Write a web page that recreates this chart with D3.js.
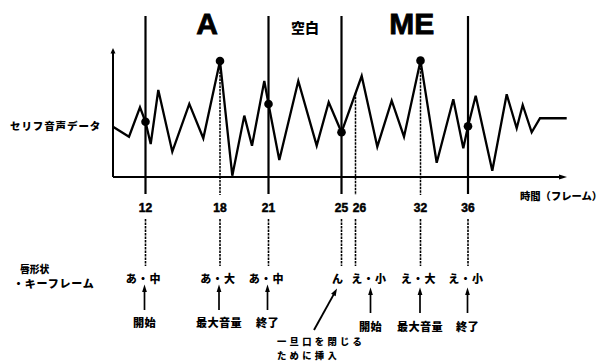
<!DOCTYPE html>
<html><head><meta charset="utf-8">
<script src="https://cdn.jsdelivr.net/npm/d3@7"></script>
<style>body{margin:0;background:#fff}svg{display:block}</style>
</head><body>
<svg id="c" width="604" height="362"></svg>
<script>
// ---- data ----
const waveT = [0,16,27,32.5,37.7,45.3,59.3,76.3,90.3,107,119.3,131.3,139,151.3,155.5,166.3,185.3,203.7,215.7,228.5,248.7,264.3,278.7,291,307.5,323.7,340.3,350.3,355,362.7,379.3,393.7,403.7,409.7,418.7,427,453.7];
const waveV = [38.7,31,53.6,42.5,25.4,66.9,19.5,56.2,29.8,89.2,1,47.2,24.1,73.8,56.2,13.1,73.8,24.1,57.5,34.4,77.7,23.3,58.7,31,89.5,11,59.8,22.1,39,62.5,4.8,63.6,37.5,55.4,34.4,45.2,45.2];
const keyFrames = [12,18,21,25,26,32,36];
const keyT = [32.5,107,155.5,228.5,242.5,307.5,355];
const keyDotV = [42.5,89.2,56.2,34.4,null,89.5,39];
const keyLineType = ["solid","dot","solid","solid","dot","dot","solid"];
const mouthShapes = ["あ・中","あ・大","あ・中","ん","え・小","え・大","え・小"];
const eventLabels = ["開始","最大音量","終了",null,"開始","最大音量","終了"];
const segmentLabels = ["A","空白","ME"];
const segmentSpan = [[0,2],[2,3],[4,6]];
const segmentSize = [30,14,30];
const yAxisLabel = "セリフ音声データ";
const xAxisLabel = "時間（フレーム）";
const rowLabel = ["唇形状","・キーフレーム"];
const noteLines = ["一旦口を閉じる","ために挿入"];

// ---- layout ----
const svg = d3.select("#c");
const x = d3.scaleLinear().domain([0,454]).range([113,567]);
const y = d3.scaleLinear().domain([0,100]).range([177,47]);
const ink = "#000";
const jp = "'Noto Sans CJK JP','Noto Sans',sans-serif";
const lat = "'Liberation Sans',Arial,sans-serif";
const waveAt = t => d3.scaleLinear().domain(waveT).range(waveV)(t);

// vertical key lines (above & at axis)
keyT.forEach((t,i)=>{
  const xp = x(t);
  if (keyLineType[i]==="solid") {
    svg.append("line").attr("x1",xp).attr("x2",xp).attr("y1",16).attr("y2",194)
      .attr("stroke",ink).attr("stroke-width",2.2);
  } else {
    const top = keyDotV[i]!=null ? y(keyDotV[i]) : y(waveAt(t));
    svg.append("line").attr("x1",xp).attr("x2",xp).attr("y1",top).attr("y2",195)
      .attr("stroke",ink).attr("stroke-width",1.5).attr("stroke-dasharray","2.5,1");
  }
  // dashed part below the frame label
  svg.append("line").attr("x1",xp).attr("x2",xp).attr("y1",219).attr("y2",266)
    .attr("stroke",ink).attr("stroke-width",1.6).attr("stroke-dasharray","2.5,1");
});

// axes
svg.append("line").attr("x1",x(0)).attr("x2",x(0)).attr("y1",y(0)).attr("y2",y(96))
  .attr("stroke",ink).attr("stroke-width",2);
svg.append("path").attr("d",`M${x(0)-2.5},${y(95)} L${x(0)},${y(100)+1} L${x(0)+2.5},${y(95)} Z`).attr("fill",ink);
svg.append("line").attr("x1",x(0)).attr("x2",x(447)).attr("y1",y(0)).attr("y2",y(0))
  .attr("stroke",ink).attr("stroke-width",2);
svg.append("path").attr("d",`M${x(446)},${y(0)-2.5} L${x(454)},${y(0)} L${x(446)},${y(0)+2.5} Z`).attr("fill",ink);

// waveform
const line = d3.line().x(d=>x(d[0])).y(d=>y(d[1]));
svg.append("path").datum(waveT.map((t,i)=>[t,waveV[i]]))
  .attr("d",line).attr("fill","none").attr("stroke",ink).attr("stroke-width",2.3)
  .attr("stroke-linejoin","miter");

// dots
keyT.forEach((t,i)=>{
  if (keyDotV[i]==null) return;
  svg.append("circle").attr("cx",x(t)).attr("cy",y(keyDotV[i])).attr("r",4.3).attr("fill",ink);
});

// segment labels
segmentLabels.forEach((s,i)=>{
  const [a,b] = segmentSpan[i];
  const cx = (x(keyT[a])+x(keyT[b]))/2;
  svg.append("text").attr("x",cx).attr("y", segmentSize[i]>20 ? 34 : 33)
    .attr("text-anchor","middle").attr("font-family", segmentSize[i]>20 ? lat : jp)
    .attr("font-weight", segmentSize[i]>20 ? "bold" : 900).attr("font-size",segmentSize[i])
    .attr("stroke", segmentSize[i]>20 ? ink : "none").attr("stroke-width",0.8).text(s);
});

// frame labels
keyFrames.forEach((f,i)=>{
  let dx = 0;
  if (f===26) dx = 4;
  svg.append("text").attr("x",x(keyT[i])+dx).attr("y",212).attr("text-anchor","middle")
    .attr("font-family",lat).attr("font-weight","bold").attr("font-size",12)
    .attr("stroke",ink).attr("stroke-width",0.5).text(f);
});

// axis labels
svg.append("text").attr("x",10).attr("y",125).attr("dominant-baseline","central")
  .attr("font-family",jp).attr("font-weight",900).attr("font-size",10.5)
  .attr("letter-spacing",0.9).text(yAxisLabel);
svg.append("text").attr("x",520).attr("y",195).attr("dominant-baseline","central")
  .attr("font-family",jp).attr("font-weight",900).attr("font-size",10.3).text(xAxisLabel);
svg.append("text").attr("x",20).attr("y",268.5).attr("dominant-baseline","central")
  .attr("font-family",jp).attr("font-weight",900).attr("font-size",9.8).text(rowLabel[0]);
svg.append("text").attr("x",13).attr("y",283).attr("dominant-baseline","central")
  .attr("font-family",jp).attr("font-weight",900).attr("font-size",11)
  .attr("letter-spacing",0.8).text(rowLabel[1]);

// mouth shapes, arrows, event labels
mouthShapes.forEach((m,i)=>{
  const xp = x(keyT[i]);
  const sx = keyFrames[i]===26 ? xp+13.5 : (keyFrames[i]===25 ? xp-3.5 : xp-2);
  svg.append("text").attr("x",sx).attr("y",277.5).attr("dominant-baseline","central")
    .attr("text-anchor","middle").attr("font-family",jp).attr("font-weight",900)
    .attr("font-size",11).attr("letter-spacing",0.8).text(m);
  const lab = eventLabels[i];
  if (lab) {
    const off = i>=4 ? 3 : 0;
    const ax = i>=4 ? sx+1.5 : sx+1;
    svg.append("line").attr("x1",ax).attr("x2",ax).attr("y1",289+off).attr("y2",310+off)
      .attr("stroke",ink).attr("stroke-width",1.7);
    svg.append("path").attr("d",`M${ax-2.4},${292+off} L${ax},${284.5+off} L${ax+2.4},${292+off} Z`).attr("fill",ink);
    svg.append("text").attr("x",ax).attr("y",322+off+(i>=4?1:0)).attr("dominant-baseline","central")
      .attr("text-anchor","middle").attr("font-family",jp).attr("font-weight",900)
      .attr("font-size",11.2).attr("letter-spacing",0.3).text(lab);
  } else {
    // diagonal note arrow pointing to "ん"
    const tx = sx-1, ty = 288.5, bx = sx-24, by = 330;
    const ang = Math.atan2(ty-by, tx-bx);
    svg.append("line").attr("x1",bx).attr("y1",by).attr("x2",tx-5*Math.cos(ang)).attr("y2",ty-5*Math.sin(ang))
      .attr("stroke",ink).attr("stroke-width",1.9);
    const p = (l,w)=>[tx - l*Math.cos(ang) - w*Math.sin(ang), ty - l*Math.sin(ang) + w*Math.cos(ang)];
    const a1 = p(7.5,2.6), a2 = p(7.5,-2.6);
    svg.append("path").attr("d",`M${tx},${ty} L${a1[0]},${a1[1]} L${a2[0]},${a2[1]} Z`).attr("fill",ink);
    noteLines.forEach((nl,k)=>{
      svg.append("text").attr("x",277).attr("y",341.3+k*13.5).attr("dominant-baseline","central")
        .attr("font-family",jp).attr("font-weight",900).attr("font-size",9.3)
        .attr("letter-spacing",3.3).text(nl);
    });
  }
});
</script>
</body></html>
